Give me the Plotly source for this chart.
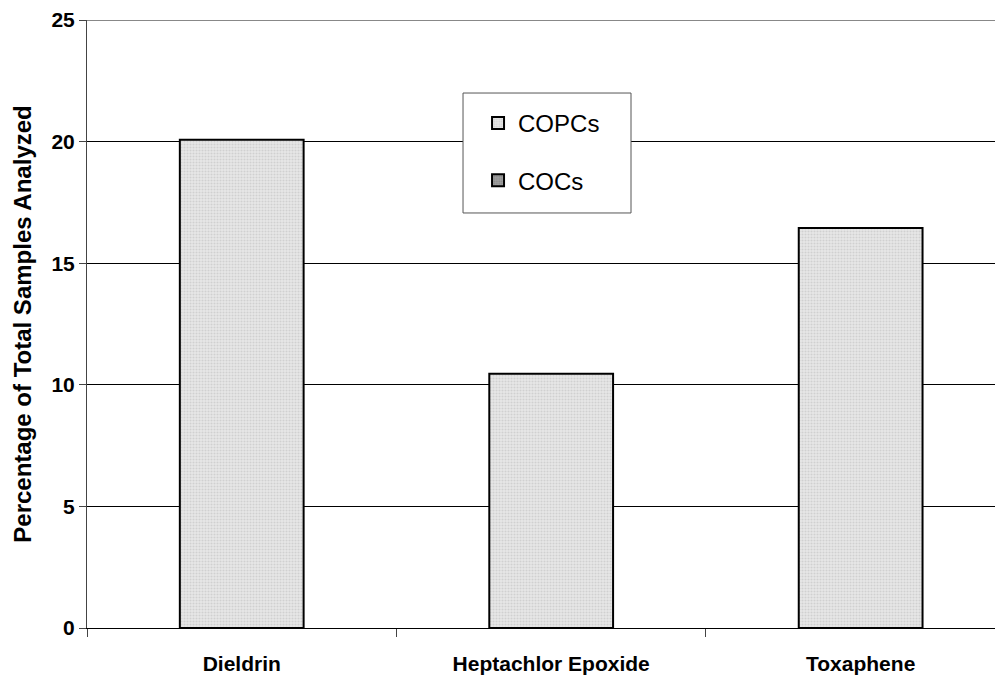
import plotly.graph_objects as go

categories = ["Dieldrin", "Heptachlor Epoxide", "Toxaphene"]
copcs = [20.08, 10.45, 16.45]
cocs = [None, None, None]
y_ticks = [0, 5, 10, 15, 20, 25]

FONT = "Liberation Sans, Arial, sans-serif"

fig = go.Figure()
fig.add_trace(go.Bar(
    x=categories, y=copcs, name="COPCs", width=0.4,
    marker=dict(color="#e4e4e4",
                pattern=dict(shape=".", fgcolor="#b8b8b8", bgcolor="#e8e8e8", size=3, solidity=0.4),
                line=dict(color="black", width=2)),
    legendgroup="a",
))
fig.add_trace(go.Bar(
    x=categories, y=cocs, name="COCs", width=0.4,
    marker=dict(color="#8c8c8c",
                pattern=dict(shape=".", fgcolor="#707070", bgcolor="#a0a0a0", size=3, solidity=0.4),
                line=dict(color="black", width=2)),
    legendgroup="b",
))

fig.update_layout(
    width=995, height=671,
    barmode="overlay",
    paper_bgcolor="white", plot_bgcolor="white",
    margin=dict(l=79, r=0, t=12, b=51, autoexpand=False),
    font=dict(family=FONT, color="black"),
    showlegend=True,
    legend=dict(x=0.4269, y=0.867, xanchor="left", yanchor="top",
                bgcolor="rgba(0,0,0,0)", borderwidth=0,
                font=dict(size=24, family=FONT),
                tracegroupgap=23, traceorder="grouped"),
    xaxis=dict(range=[-0.5, 2.46], showgrid=False, showline=True, linecolor="black", linewidth=1,
               ticks="outside", ticklen=8, tickcolor="#444444", tickson="boundaries",
               ticklabelstandoff=17,
               tickfont=dict(size=21, family=FONT, weight="bold"),
               zeroline=False),
    yaxis=dict(range=[0, 25], tickvals=y_ticks, showgrid=True, gridcolor="black", gridwidth=1,
               showline=True, linecolor="#444444", linewidth=1,
               ticks="outside", ticklen=7, tickcolor="#444444",
               tickfont=dict(size=21, family=FONT, weight="bold"),
               title=dict(text="Percentage of Total Samples Analyzed", standoff=13,
                          font=dict(size=24, family=FONT, weight="bold")),
               zeroline=False),
)
# top border of plot area (gray)
fig.add_shape(type="line", xref="paper", yref="y", x0=0, x1=1, y0=25, y1=25,
              line=dict(color="#888888", width=2))
# legend box
fig.add_shape(type="rect", xref="paper", yref="paper", x0=0.4105, x1=0.5939, y0=0.6826, y1=0.8799,
              fillcolor="white", line=dict(color="#555555", width=1), layer="above")

fig.write_html("out.html")
